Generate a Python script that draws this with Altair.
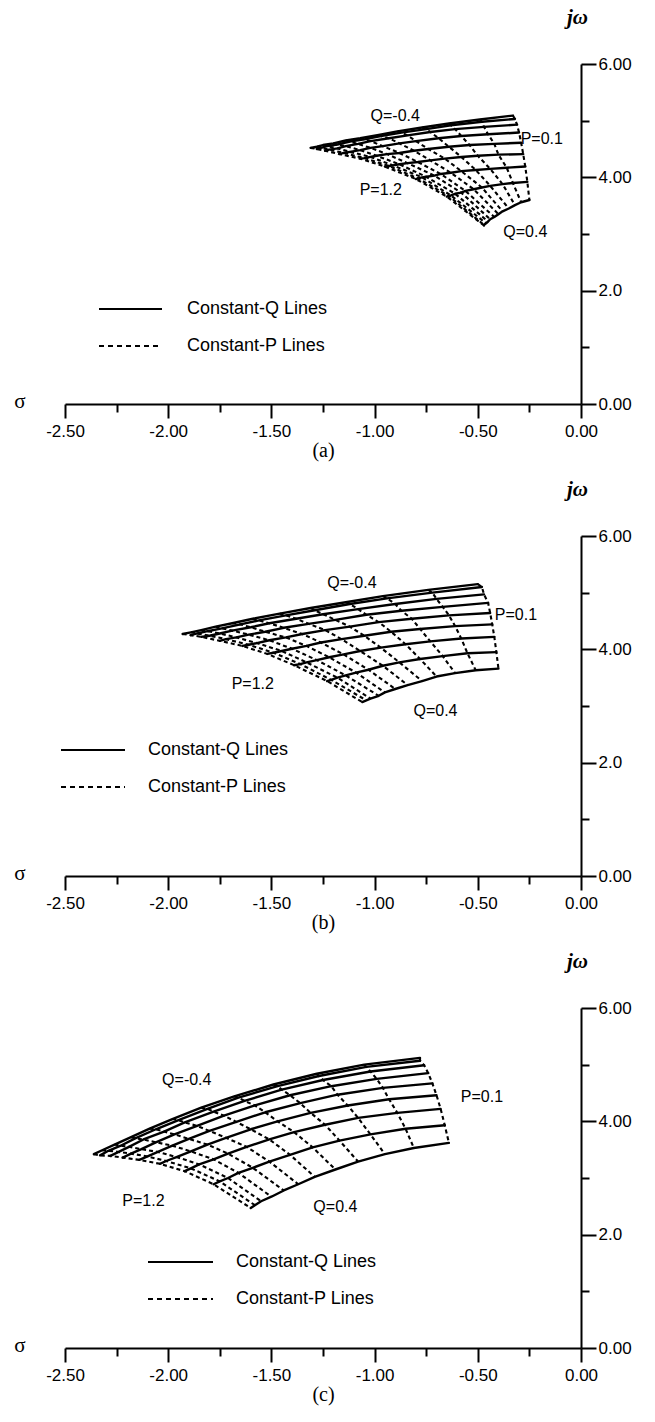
import altair as alt
import pandas as pd

P_VALUES = [0.1, 0.2, 0.3, 0.4, 0.5, 0.6, 0.7, 0.8, 0.9, 1.0, 1.1, 1.2]
Q_VALUES = [-0.4, -0.3, -0.2, -0.1, 0.0, 0.1, 0.2, 0.3, 0.4]

# Panel (a): one row per Q line, one column per P value
A_X = [
    [-0.33, -0.49, -0.64, -0.77, -0.89, -0.98, -1.07, -1.14, -1.20, -1.25, -1.28, -1.31],
    [-0.32, -0.48, -0.63, -0.75, -0.87, -0.97, -1.05, -1.12, -1.18, -1.23, -1.26, -1.28],
    [-0.31, -0.47, -0.61, -0.73, -0.84, -0.93, -1.02, -1.08, -1.14, -1.18, -1.22, -1.24],
    [-0.30, -0.45, -0.58, -0.69, -0.80, -0.88, -0.96, -1.02, -1.07, -1.12, -1.15, -1.17],
    [-0.29, -0.42, -0.54, -0.64, -0.74, -0.81, -0.88, -0.94, -0.99, -1.02, -1.05, -1.07],
    [-0.28, -0.40, -0.50, -0.58, -0.66, -0.73, -0.79, -0.84, -0.88, -0.91, -0.93, -0.95],
    [-0.27, -0.36, -0.44, -0.51, -0.58, -0.63, -0.68, -0.71, -0.75, -0.77, -0.79, -0.80],
    [-0.26, -0.33, -0.38, -0.44, -0.48, -0.52, -0.56, -0.58, -0.61, -0.63, -0.64, -0.65],
    [-0.25, -0.29, -0.32, -0.35, -0.38, -0.40, -0.42, -0.44, -0.45, -0.46, -0.47, -0.47],
]
A_Y = [
    [5.09, 5.02, 4.95, 4.88, 4.81, 4.75, 4.69, 4.65, 4.60, 4.57, 4.54, 4.52],
    [5.03, 4.98, 4.92, 4.85, 4.79, 4.73, 4.67, 4.63, 4.58, 4.55, 4.52, 4.50],
    [4.93, 4.89, 4.85, 4.80, 4.74, 4.69, 4.64, 4.59, 4.55, 4.51, 4.49, 4.47],
    [4.79, 4.76, 4.73, 4.69, 4.64, 4.60, 4.55, 4.52, 4.48, 4.45, 4.43, 4.41],
    [4.61, 4.59, 4.57, 4.54, 4.50, 4.47, 4.43, 4.41, 4.38, 4.36, 4.34, 4.33],
    [4.41, 4.40, 4.38, 4.36, 4.33, 4.30, 4.27, 4.25, 4.23, 4.21, 4.20, 4.19],
    [4.19, 4.17, 4.15, 4.13, 4.11, 4.08, 4.06, 4.03, 4.01, 4.00, 3.98, 3.97],
    [3.92, 3.90, 3.88, 3.85, 3.82, 3.79, 3.76, 3.73, 3.71, 3.68, 3.67, 3.66],
    [3.60, 3.56, 3.51, 3.45, 3.40, 3.35, 3.30, 3.26, 3.22, 3.19, 3.16, 3.15],
]

# Panel (b)
B_X = [
    [-0.50, -0.74, -0.96, -1.14, -1.31, -1.46, -1.59, -1.69, -1.77, -1.84, -1.89, -1.93],
    [-0.48, -0.72, -0.94, -1.12, -1.29, -1.43, -1.56, -1.65, -1.74, -1.81, -1.86, -1.89],
    [-0.47, -0.70, -0.90, -1.08, -1.25, -1.38, -1.51, -1.60, -1.69, -1.75, -1.80, -1.84],
    [-0.45, -0.67, -0.87, -1.04, -1.19, -1.32, -1.44, -1.53, -1.61, -1.67, -1.72, -1.75],
    [-0.44, -0.64, -0.82, -0.98, -1.12, -1.24, -1.35, -1.43, -1.51, -1.57, -1.61, -1.64],
    [-0.43, -0.61, -0.78, -0.92, -1.05, -1.16, -1.26, -1.33, -1.40, -1.45, -1.49, -1.52],
    [-0.42, -0.58, -0.73, -0.85, -0.97, -1.07, -1.15, -1.22, -1.28, -1.33, -1.36, -1.39],
    [-0.41, -0.55, -0.67, -0.78, -0.88, -0.96, -1.03, -1.09, -1.14, -1.18, -1.21, -1.23],
    [-0.40, -0.51, -0.61, -0.70, -0.77, -0.84, -0.90, -0.95, -0.98, -1.02, -1.04, -1.06],
]
B_Y = [
    [5.15, 5.05, 4.94, 4.83, 4.73, 4.63, 4.54, 4.46, 4.40, 4.34, 4.30, 4.27],
    [5.10, 5.00, 4.90, 4.80, 4.69, 4.60, 4.51, 4.44, 4.37, 4.32, 4.28, 4.25],
    [4.97, 4.89, 4.80, 4.71, 4.62, 4.54, 4.46, 4.39, 4.33, 4.28, 4.24, 4.22],
    [4.82, 4.75, 4.68, 4.61, 4.52, 4.45, 4.38, 4.31, 4.26, 4.21, 4.18, 4.15],
    [4.64, 4.60, 4.54, 4.48, 4.40, 4.34, 4.27, 4.21, 4.16, 4.11, 4.08, 4.06],
    [4.44, 4.41, 4.36, 4.31, 4.24, 4.18, 4.12, 4.06, 4.01, 3.97, 3.94, 3.92],
    [4.22, 4.19, 4.14, 4.09, 4.03, 3.97, 3.91, 3.86, 3.81, 3.77, 3.74, 3.72],
    [3.95, 3.93, 3.88, 3.83, 3.77, 3.71, 3.64, 3.59, 3.54, 3.50, 3.46, 3.44],
    [3.66, 3.63, 3.58, 3.52, 3.44, 3.37, 3.30, 3.24, 3.18, 3.13, 3.10, 3.07],
]

# Panel (c)
C_X = [
    [-0.78, -1.05, -1.28, -1.49, -1.68, -1.84, -1.98, -2.09, -2.18, -2.26, -2.32, -2.36],
    [-0.78, -1.04, -1.27, -1.47, -1.66, -1.81, -1.95, -2.06, -2.16, -2.23, -2.29, -2.33],
    [-0.76, -1.02, -1.25, -1.45, -1.63, -1.78, -1.92, -2.02, -2.12, -2.19, -2.24, -2.28],
    [-0.74, -0.99, -1.21, -1.41, -1.58, -1.73, -1.86, -1.97, -2.06, -2.13, -2.18, -2.22],
    [-0.72, -0.96, -1.18, -1.36, -1.53, -1.67, -1.80, -1.90, -1.98, -2.05, -2.10, -2.14],
    [-0.70, -0.93, -1.13, -1.31, -1.47, -1.60, -1.72, -1.81, -1.89, -1.96, -2.01, -2.04],
    [-0.68, -0.89, -1.08, -1.24, -1.39, -1.51, -1.62, -1.71, -1.78, -1.85, -1.89, -1.92],
    [-0.66, -0.85, -1.02, -1.17, -1.30, -1.41, -1.51, -1.59, -1.66, -1.71, -1.75, -1.78],
    [-0.64, -0.81, -0.95, -1.08, -1.19, -1.29, -1.37, -1.44, -1.50, -1.55, -1.58, -1.60],
]
C_Y = [
    [5.12, 5.00, 4.84, 4.65, 4.44, 4.24, 4.04, 3.87, 3.72, 3.59, 3.49, 3.42],
    [5.07, 4.96, 4.80, 4.62, 4.42, 4.22, 4.02, 3.86, 3.70, 3.57, 3.48, 3.40],
    [4.99, 4.88, 4.73, 4.56, 4.36, 4.17, 3.98, 3.82, 3.68, 3.55, 3.46, 3.39],
    [4.85, 4.75, 4.62, 4.46, 4.28, 4.10, 3.92, 3.77, 3.63, 3.51, 3.43, 3.36],
    [4.67, 4.59, 4.47, 4.32, 4.16, 3.99, 3.83, 3.69, 3.57, 3.46, 3.38, 3.32],
    [4.46, 4.39, 4.28, 4.15, 4.00, 3.86, 3.71, 3.59, 3.47, 3.37, 3.30, 3.25],
    [4.22, 4.15, 4.06, 3.94, 3.81, 3.68, 3.55, 3.43, 3.33, 3.24, 3.17, 3.12],
    [3.93, 3.87, 3.77, 3.66, 3.54, 3.41, 3.29, 3.18, 3.09, 3.00, 2.94, 2.89],
    [3.62, 3.53, 3.42, 3.29, 3.15, 3.02, 2.89, 2.78, 2.67, 2.59, 2.52, 2.47],
]

ANNOT_TEXT = ["Q=-0.4", "P=0.1", "P=1.2", "Q=0.4"]
A_ANNOT_X = [-0.90, -0.19, -0.97, -0.27]
A_ANNOT_Y = [5.08, 4.67, 3.78, 3.04]
B_ANNOT_X = [-1.11, -0.315, -1.59, -0.705]
B_ANNOT_Y = [5.17, 4.60, 3.39, 2.91]
C_ANNOT_X = [-1.91, -0.48, -2.12, -1.19]
C_ANNOT_Y = [4.73, 4.43, 2.59, 2.48]

X_TICKS = [-2.5, -2.25, -2.0, -1.75, -1.5, -1.25, -1.0, -0.75, -0.5, -0.25, 0.0]
Y_TICKS = [0, 1, 2, 3, 4, 5, 6]
LEGEND_TEXT = ["Constant-Q Lines", "Constant-P Lines"]
CAPTIONS = ["(a)", "(b)", "(c)"]

W, H = 516, 340
SANS = "Liberation Sans"
SERIF = "Liberation Serif"


def grid_frame(X, Y):
    rows = []
    for j, q in enumerate(Q_VALUES):
        for i, p in enumerate(P_VALUES):
            rows.append({"x": X[j][i], "y": Y[j][i], "Q": q, "P": p, "qi": j, "pi": i})
    return pd.DataFrame(rows)


def panel(X, Y, ax, ay, caption, leg):
    df = grid_frame(X, Y)
    x_axis = alt.Axis(
        values=X_TICKS,
        labelExpr="abs(datum.value*4) % 2 < 0.01 ? ((datum.value < 0 ? '-' : '') + format(abs(datum.value), '.2f')) : ''",
        tickSize={"condition": {"test": "abs(datum.value*4) % 2 < 0.01", "value": 14}, "value": 8},
        tickWidth=2, tickColor="black", domainColor="black", domainWidth=2,
        labelFont=SANS, labelFontSize=17, labelColor="black", labelPadding=5,
        labelFlush=False, labelOverlap=False, grid=False,
        title=caption, titleFont=SERIF, titleFontSize=20, titleFontWeight="normal",
        titleColor="black", titlePadding=1,
    )
    y_axis = alt.Axis(
        orient="right", values=Y_TICKS,
        labelExpr="datum.value == 2 ? '2.0' : (datum.value % 2 == 0 ? format(datum.value, '.2f') : '')",
        tickSize={"condition": {"test": "datum.value % 2 == 0", "value": 15}, "value": 8},
        tickWidth=2, tickColor="black", domainColor="black", domainWidth=2,
        labelFont=SANS, labelFontSize=17, labelColor="black", labelPadding=2,
        labelFlush=False, labelOverlap=False, grid=False,
        title="jω", titleAngle=0, titleX=-4, titleY=-47, titleAlign="center",
        titleBaseline="middle", titleFont=SERIF, titleFontSize=21,
        titleFontStyle="italic", titleFontWeight="bold", titleColor="black",
    )
    xenc = alt.X("x:Q", scale=alt.Scale(domain=[-2.5, 0], nice=False, zero=False), axis=x_axis)
    yenc = alt.Y("y:Q", scale=alt.Scale(domain=[0, 6], nice=False, zero=False), axis=y_axis)

    base = alt.Chart(df)
    q_lines = base.mark_line(color="black", strokeWidth=2.4, strokeCap="round", strokeJoin="round").encode(
        x=xenc, y=yenc, detail="Q:N", order="pi:Q")
    p_lines = base.mark_line(color="black", strokeWidth=2.1, strokeDash=[4, 3]).encode(
        x=xenc, y=yenc, detail="P:N", order="qi:Q")
    ann = alt.Chart(pd.DataFrame({"x": ax, "y": ay, "t": ANNOT_TEXT})).mark_text(
        font=SANS, fontSize=16, color="black").encode(x=xenc, y=yenc, text="t:N")

    one = pd.DataFrame({"k": [0]})
    leg_q = alt.Chart(one).mark_rule(color="black", strokeWidth=2.2).encode(
        x=alt.value(leg["x0"]), x2=alt.value(leg["x1"]), y=alt.value(leg["y0"]))
    leg_p = alt.Chart(one).mark_rule(color="black", strokeWidth=2.2, strokeDash=[5, 4]).encode(
        x=alt.value(leg["x0"]), x2=alt.value(leg["x1"]), y=alt.value(leg["y1"]))
    leg_t1 = alt.Chart(one).mark_text(text=LEGEND_TEXT[0], font=SANS, fontSize=18, align="left",
                                      baseline="middle", color="black").encode(
        x=alt.value(leg["tx"]), y=alt.value(leg["y0"]))
    leg_t2 = alt.Chart(one).mark_text(text=LEGEND_TEXT[1], font=SANS, fontSize=18, align="left",
                                      baseline="middle", color="black").encode(
        x=alt.value(leg["tx"]), y=alt.value(leg["y1"]))
    sigma = alt.Chart(one).mark_text(text="σ", font=SERIF, fontSize=21, baseline="middle",
                                     color="black").encode(x=alt.value(-45), y=alt.value(H - 2))

    return alt.layer(q_lines, p_lines, ann, leg_q, leg_p, leg_t1, leg_t2, sigma).properties(width=W, height=H)


LEG_A = {"x0": 34, "x1": 97, "tx": 122, "y0": 245, "y1": 282}
LEG_B = {"x0": -4, "x1": 60, "tx": 83, "y0": 214, "y1": 251}
LEG_C = {"x0": 83, "x1": 148, "tx": 171, "y0": 254, "y1": 291}

pa = panel(A_X, A_Y, A_ANNOT_X, A_ANNOT_Y, CAPTIONS[0], LEG_A)
pb = panel(B_X, B_Y, B_ANNOT_X, B_ANNOT_Y, CAPTIONS[1], LEG_B)
pc = panel(C_X, C_Y, C_ANNOT_X, C_ANNOT_Y, CAPTIONS[2], LEG_C)

chart = alt.vconcat(pa, pb, pc, spacing=18).properties(
    padding={"top": 6, "left": 14, "right": 5, "bottom": 5},
    background="white",
).configure_view(stroke=None)

chart.save("out.html", embed_options={"renderer": "svg", "actions": False})
